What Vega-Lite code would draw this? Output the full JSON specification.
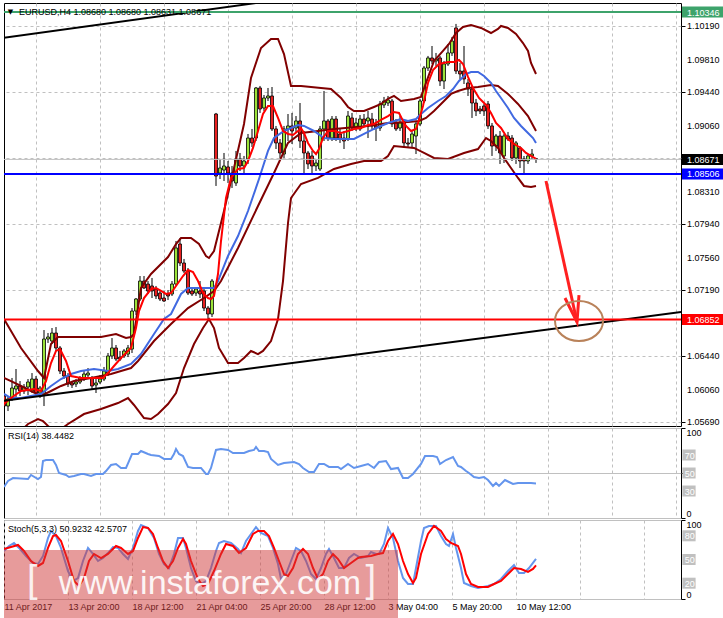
{
"$schema": "https://vega.github.io/schema/vega-lite/v6.json",
"background": "white",
"padding": {"left": 3, "top": 2, "right": 0, "bottom": 0},
"spacing": 2,
"bounds": "flush",
"config": {
  "view": {"stroke": "#000000", "strokeWidth": 1},
  "scale": {"continuousPadding": 0},
  "axis": {"labelFont": "Liberation Sans", "labelFontSize": 9, "labelColor": "#000000", "tickColor": "#000000", "labelOverlap": false},
  "text": {"font": "Liberation Sans"}
},
"datasets": {
"candles": [
{"i":0,"o":1.05981,"h":1.0606,"l":1.05776,"c":1.05867},
{"i":1,"o":1.05867,"h":1.05981,"l":1.0581,"c":1.05947},
{"i":2,"o":1.05958,"h":1.06186,"l":1.05924,"c":1.06072},
{"i":3,"o":1.0606,"h":1.06288,"l":1.05958,"c":1.06095},
{"i":4,"o":1.06095,"h":1.06151,"l":1.05981,"c":1.06038},
{"i":5,"o":1.06038,"h":1.06117,"l":1.06004,"c":1.06083},
{"i":6,"o":1.06083,"h":1.06174,"l":1.05992,"c":1.0614},
{"i":7,"o":1.06038,"h":1.06242,"l":1.06015,"c":1.06174},
{"i":8,"o":1.06174,"h":1.06208,"l":1.05981,"c":1.06015},
{"i":9,"o":1.06015,"h":1.06095,"l":1.05958,"c":1.06072},
{"i":10,"o":1.06004,"h":1.06731,"l":1.05867,"c":1.06629},
{"i":11,"o":1.06629,"h":1.06697,"l":1.06584,"c":1.06652},
{"i":12,"o":1.06606,"h":1.06754,"l":1.06572,"c":1.06697},
{"i":13,"o":1.06697,"h":1.06765,"l":1.06493,"c":1.06527},
{"i":14,"o":1.06527,"h":1.06549,"l":1.06231,"c":1.06265},
{"i":15,"o":1.06265,"h":1.06299,"l":1.06174,"c":1.06208},
{"i":16,"o":1.06208,"h":1.06242,"l":1.06083,"c":1.06117},
{"i":17,"o":1.06129,"h":1.06151,"l":1.06072,"c":1.06106},
{"i":18,"o":1.06117,"h":1.06174,"l":1.06083,"c":1.0614},
{"i":19,"o":1.0614,"h":1.06208,"l":1.06117,"c":1.06186},
{"i":20,"o":1.06174,"h":1.06265,"l":1.06151,"c":1.06231},
{"i":21,"o":1.0622,"h":1.06299,"l":1.06174,"c":1.06242},
{"i":22,"o":1.06186,"h":1.06208,"l":1.0606,"c":1.06095},
{"i":23,"o":1.06106,"h":1.06186,"l":1.06015,"c":1.06129},
{"i":24,"o":1.0614,"h":1.0622,"l":1.06117,"c":1.06174},
{"i":25,"o":1.06174,"h":1.06311,"l":1.06151,"c":1.06265},
{"i":26,"o":1.06242,"h":1.0647,"l":1.06208,"c":1.06436},
{"i":27,"o":1.06436,"h":1.0664,"l":1.06402,"c":1.06527},
{"i":28,"o":1.06527,"h":1.06561,"l":1.06379,"c":1.06402},
{"i":29,"o":1.06424,"h":1.06493,"l":1.06379,"c":1.06402},
{"i":30,"o":1.06436,"h":1.06515,"l":1.06413,"c":1.06493},
{"i":31,"o":1.06458,"h":1.06561,"l":1.06424,"c":1.06527},
{"i":32,"o":1.06515,"h":1.06981,"l":1.0647,"c":1.06947},
{"i":33,"o":1.06947,"h":1.07095,"l":1.06902,"c":1.07084},
{"i":34,"o":1.07084,"h":1.07345,"l":1.07061,"c":1.07288},
{"i":35,"o":1.07288,"h":1.07345,"l":1.07197,"c":1.07209},
{"i":36,"o":1.07254,"h":1.07288,"l":1.07141,"c":1.07175},
{"i":37,"o":1.07232,"h":1.07323,"l":1.07095,"c":1.07175},
{"i":38,"o":1.07197,"h":1.07232,"l":1.07084,"c":1.07118},
{"i":39,"o":1.07152,"h":1.07186,"l":1.07061,"c":1.07084},
{"i":40,"o":1.07095,"h":1.07175,"l":1.0705,"c":1.07061},
{"i":41,"o":1.07141,"h":1.07186,"l":1.07072,"c":1.07118},
{"i":42,"o":1.07141,"h":1.07288,"l":1.07118,"c":1.07254},
{"i":43,"o":1.07254,"h":1.07743,"l":1.07232,"c":1.07664},
{"i":44,"o":1.07709,"h":1.07777,"l":1.07459,"c":1.07493},
{"i":45,"o":1.07493,"h":1.07539,"l":1.07379,"c":1.07402},
{"i":46,"o":1.07402,"h":1.07436,"l":1.07129,"c":1.07152},
{"i":47,"o":1.07175,"h":1.07209,"l":1.07118,"c":1.07141},
{"i":48,"o":1.07152,"h":1.07209,"l":1.07118,"c":1.07197},
{"i":49,"o":1.07175,"h":1.07288,"l":1.07095,"c":1.07141},
{"i":50,"o":1.07175,"h":1.07197,"l":1.06947,"c":1.06981},
{"i":51,"o":1.06981,"h":1.07004,"l":1.06856,"c":1.06913},
{"i":52,"o":1.06913,"h":1.07311,"l":1.06879,"c":1.07288},
{"i":53,"o":1.09187,"h":1.09199,"l":1.08369,"c":1.08482},
{"i":54,"o":1.08516,"h":1.08676,"l":1.08448,"c":1.08573},
{"i":55,"o":1.0855,"h":1.08744,"l":1.08425,"c":1.08596},
{"i":56,"o":1.08585,"h":1.08653,"l":1.08403,"c":1.08516},
{"i":57,"o":1.08516,"h":1.08596,"l":1.08346,"c":1.08425},
{"i":58,"o":1.08403,"h":1.08767,"l":1.08369,"c":1.08676},
{"i":59,"o":1.08676,"h":1.08744,"l":1.08539,"c":1.08596},
{"i":60,"o":1.08596,"h":1.0871,"l":1.08516,"c":1.08653},
{"i":61,"o":1.08676,"h":1.0896,"l":1.08619,"c":1.08914},
{"i":62,"o":1.08914,"h":1.09017,"l":1.08812,"c":1.08858},
{"i":63,"o":1.08914,"h":1.09494,"l":1.0888,"c":1.09483},
{"i":64,"o":1.09483,"h":1.09506,"l":1.09199,"c":1.09244},
{"i":65,"o":1.09255,"h":1.09403,"l":1.09221,"c":1.09369},
{"i":66,"o":1.09369,"h":1.09483,"l":1.09335,"c":1.09392},
{"i":67,"o":1.09392,"h":1.09494,"l":1.08994,"c":1.09017},
{"i":68,"o":1.09017,"h":1.09051,"l":1.08789,"c":1.08858},
{"i":69,"o":1.08858,"h":1.08903,"l":1.08687,"c":1.08744},
{"i":70,"o":1.08732,"h":1.09051,"l":1.08687,"c":1.09017},
{"i":71,"o":1.09017,"h":1.09187,"l":1.0888,"c":1.09051},
{"i":72,"o":1.09051,"h":1.09199,"l":1.08846,"c":1.08994},
{"i":73,"o":1.09028,"h":1.09164,"l":1.08971,"c":1.09108},
{"i":74,"o":1.09108,"h":1.09312,"l":1.08801,"c":1.0888},
{"i":75,"o":1.0888,"h":1.08994,"l":1.08516,"c":1.08744},
{"i":76,"o":1.08744,"h":1.08767,"l":1.08562,"c":1.08619},
{"i":77,"o":1.0871,"h":1.08767,"l":1.08516,"c":1.08596},
{"i":78,"o":1.08596,"h":1.08676,"l":1.08539,"c":1.0863},
{"i":79,"o":1.08562,"h":1.09051,"l":1.08539,"c":1.09017},
{"i":80,"o":1.09017,"h":1.09449,"l":1.0888,"c":1.09108},
{"i":81,"o":1.09108,"h":1.0913,"l":1.0888,"c":1.08914},
{"i":82,"o":1.08914,"h":1.09164,"l":1.0888,"c":1.0913},
{"i":83,"o":1.0913,"h":1.09164,"l":1.0888,"c":1.08914},
{"i":84,"o":1.0896,"h":1.09017,"l":1.08858,"c":1.08903},
{"i":85,"o":1.08914,"h":1.08994,"l":1.08789,"c":1.0888},
{"i":86,"o":1.08903,"h":1.09221,"l":1.0888,"c":1.09164},
{"i":87,"o":1.09142,"h":1.09199,"l":1.08994,"c":1.09028},
{"i":88,"o":1.09028,"h":1.09142,"l":1.08994,"c":1.09085},
{"i":89,"o":1.09017,"h":1.09176,"l":1.08994,"c":1.0913},
{"i":90,"o":1.0913,"h":1.09187,"l":1.09051,"c":1.09074},
{"i":91,"o":1.09108,"h":1.09221,"l":1.08914,"c":1.09142},
{"i":92,"o":1.0913,"h":1.09199,"l":1.09017,"c":1.09051},
{"i":93,"o":1.09051,"h":1.0913,"l":1.0888,"c":1.09028},
{"i":94,"o":1.09028,"h":1.09335,"l":1.08994,"c":1.09301},
{"i":95,"o":1.0929,"h":1.09381,"l":1.09255,"c":1.09335},
{"i":96,"o":1.09312,"h":1.09392,"l":1.09278,"c":1.09346},
{"i":97,"o":1.09335,"h":1.09358,"l":1.09039,"c":1.09074},
{"i":98,"o":1.09085,"h":1.0913,"l":1.08994,"c":1.09017},
{"i":99,"o":1.09028,"h":1.09164,"l":1.08994,"c":1.09085},
{"i":100,"o":1.09085,"h":1.0913,"l":1.08801,"c":1.08858},
{"i":101,"o":1.08858,"h":1.08914,"l":1.08801,"c":1.08846},
{"i":102,"o":1.08858,"h":1.08994,"l":1.08801,"c":1.0896},
{"i":103,"o":1.08937,"h":1.09108,"l":1.08732,"c":1.09074},
{"i":104,"o":1.09074,"h":1.09358,"l":1.09051,"c":1.09335},
{"i":105,"o":1.09335,"h":1.09733,"l":1.09312,"c":1.0971},
{"i":106,"o":1.0971,"h":1.09847,"l":1.09676,"c":1.09824},
{"i":107,"o":1.09824,"h":1.0996,"l":1.09756,"c":1.0979},
{"i":108,"o":1.0979,"h":1.09881,"l":1.09733,"c":1.09813},
{"i":109,"o":1.09824,"h":1.09847,"l":1.09506,"c":1.09562},
{"i":110,"o":1.09562,"h":1.0979,"l":1.09471,"c":1.09756},
{"i":111,"o":1.09756,"h":1.09983,"l":1.09733,"c":1.09881},
{"i":112,"o":1.09881,"h":1.10063,"l":1.09847,"c":1.10017},
{"i":113,"o":1.10165,"h":1.10211,"l":1.09642,"c":1.09676},
{"i":114,"o":1.09676,"h":1.09767,"l":1.09585,"c":1.09642},
{"i":115,"o":1.09676,"h":1.0996,"l":1.09528,"c":1.09585},
{"i":116,"o":1.0954,"h":1.09585,"l":1.09392,"c":1.09471},
{"i":117,"o":1.09471,"h":1.09506,"l":1.09142,"c":1.09312},
{"i":118,"o":1.09312,"h":1.09358,"l":1.09164,"c":1.09221},
{"i":119,"o":1.09244,"h":1.09278,"l":1.09187,"c":1.09221},
{"i":120,"o":1.09278,"h":1.09301,"l":1.09164,"c":1.09221},
{"i":121,"o":1.09301,"h":1.09335,"l":1.09017,"c":1.09051},
{"i":122,"o":1.09051,"h":1.09085,"l":1.0871,"c":1.08823},
{"i":123,"o":1.08823,"h":1.0896,"l":1.08767,"c":1.08937},
{"i":124,"o":1.08937,"h":1.08994,"l":1.08619,"c":1.08744},
{"i":125,"o":1.0871,"h":1.0896,"l":1.0863,"c":1.08937},
{"i":126,"o":1.08937,"h":1.08983,"l":1.0888,"c":1.08903},
{"i":127,"o":1.08914,"h":1.08948,"l":1.08653,"c":1.08687},
{"i":128,"o":1.08687,"h":1.0888,"l":1.08619,"c":1.08858},
{"i":129,"o":1.08801,"h":1.08823,"l":1.08573,"c":1.08653},
{"i":130,"o":1.08676,"h":1.0871,"l":1.08516,"c":1.08653},
{"i":131,"o":1.08653,"h":1.08732,"l":1.08619,"c":1.0871},
{"i":132,"o":1.0871,"h":1.08789,"l":1.08676,"c":1.08732},
{"i":133,"o":1.0868,"h":1.0868,"l":1.08631,"c":1.08671}
],
"lines": [
{"s":"f","i":0,"p":1.0589},{"s":"f","i":1.75,"p":1.05958},{"s":"f","i":4.25,"p":1.06038},{"s":"f","i":7.5,"p":1.0606},{"s":"f","i":9.25,"p":1.06038},{"s":"f","i":10.5,"p":1.06151},{"s":"f","i":11.75,"p":1.06356},{"s":"f","i":13,"p":1.06493},{"s":"f","i":14,"p":1.06515},{"s":"f","i":15.5,"p":1.06379},{"s":"f","i":16.75,"p":1.06208},{"s":"f","i":19.25,"p":1.06186},{"s":"f","i":22.5,"p":1.06186},{"s":"f","i":24.75,"p":1.06186},{"s":"f","i":26,"p":1.06242},{"s":"f","i":27.5,"p":1.06322},{"s":"f","i":29.25,"p":1.06413},{"s":"f","i":31.75,"p":1.06527},{"s":"f","i":33,"p":1.06754},{"s":"f","i":33.75,"p":1.06947},{"s":"f","i":35,"p":1.07095},{"s":"f","i":36.75,"p":1.07197},{"s":"f","i":38,"p":1.07209},{"s":"f","i":39.25,"p":1.07175},{"s":"f","i":40.5,"p":1.07141},{"s":"f","i":41.75,"p":1.07152},{"s":"f","i":43,"p":1.07232},{"s":"f","i":44.75,"p":1.07345},{"s":"f","i":46,"p":1.07413},{"s":"f","i":47.25,"p":1.07391},{"s":"f","i":48.5,"p":1.07288},{"s":"f","i":49.75,"p":1.07152},{"s":"f","i":51,"p":1.07095},{"s":"f","i":51.75,"p":1.07084},{"s":"f","i":52.5,"p":1.07118},{"s":"f","i":53.5,"p":1.07368},{"s":"f","i":54.25,"p":1.07743},{"s":"f","i":55.5,"p":1.08232},{"s":"f","i":56.75,"p":1.0846},{"s":"f","i":58.5,"p":1.08562},{"s":"f","i":60,"p":1.08573},{"s":"f","i":61,"p":1.08653},{"s":"f","i":62.25,"p":1.08801},{"s":"f","i":63.5,"p":1.08994},{"s":"f","i":64.75,"p":1.09187},{"s":"f","i":66,"p":1.09278},{"s":"f","i":67.25,"p":1.09278},{"s":"f","i":68.5,"p":1.09142},{"s":"f","i":69.75,"p":1.08994},{"s":"f","i":71,"p":1.0896},{"s":"f","i":72.25,"p":1.08948},{"s":"f","i":73.5,"p":1.08994},{"s":"f","i":74.25,"p":1.09028},{"s":"f","i":75,"p":1.08971},{"s":"f","i":76,"p":1.08858},{"s":"f","i":77.25,"p":1.08767},{"s":"f","i":78,"p":1.08732},{"s":"f","i":78.75,"p":1.08789},{"s":"f","i":79.75,"p":1.08914},{"s":"f","i":81,"p":1.08994},{"s":"f","i":82.5,"p":1.08994},{"s":"f","i":84.25,"p":1.08971},{"s":"f","i":86,"p":1.08994},{"s":"f","i":87.5,"p":1.09017},{"s":"f","i":89.25,"p":1.09028},{"s":"f","i":91,"p":1.09062},{"s":"f","i":92.5,"p":1.09074},{"s":"f","i":94.25,"p":1.09119},{"s":"f","i":96,"p":1.09164},{"s":"f","i":97.5,"p":1.0921},{"s":"f","i":98.75,"p":1.09199},{"s":"f","i":99.75,"p":1.09108},{"s":"f","i":100.5,"p":1.09051},{"s":"f","i":101.75,"p":1.08994},{"s":"f","i":103,"p":1.09017},{"s":"f","i":103.75,"p":1.09119},{"s":"f","i":104.75,"p":1.09278},{"s":"f","i":106,"p":1.0954},{"s":"f","i":107.25,"p":1.09687},{"s":"f","i":108.75,"p":1.09756},{"s":"f","i":111,"p":1.09778},{"s":"f","i":112.5,"p":1.09778},{"s":"f","i":113.75,"p":1.09801},{"s":"f","i":114.75,"p":1.09756},{"s":"f","i":116,"p":1.09608},{"s":"f","i":117.25,"p":1.09483},{"s":"f","i":118.75,"p":1.09369},{"s":"f","i":120.5,"p":1.0929},{"s":"f","i":121.75,"p":1.09199},{"s":"f","i":123,"p":1.09085},{"s":"f","i":124.25,"p":1.09028},{"s":"f","i":126,"p":1.08903},{"s":"f","i":127.5,"p":1.08846},{"s":"f","i":129.25,"p":1.08801},{"s":"f","i":130.5,"p":1.08744},{"s":"f","i":131.75,"p":1.0871},{"s":"f","i":133,"p":1.08676},
{"s":"s","i":0,"p":1.06004},{"s":"s","i":1.75,"p":1.05958},{"s":"s","i":4.25,"p":1.05958},{"s":"s","i":6.75,"p":1.05981},{"s":"s","i":9.25,"p":1.06004},{"s":"s","i":11.75,"p":1.06095},{"s":"s","i":14.25,"p":1.06174},{"s":"s","i":16.75,"p":1.06231},{"s":"s","i":19.25,"p":1.06265},{"s":"s","i":22.5,"p":1.06288},{"s":"s","i":26,"p":1.06265},{"s":"s","i":28.5,"p":1.06288},{"s":"s","i":31.75,"p":1.06345},{"s":"s","i":34.25,"p":1.06458},{"s":"s","i":37.5,"p":1.06686},{"s":"s","i":40,"p":1.06856},{"s":"s","i":41.75,"p":1.06913},{"s":"s","i":43,"p":1.07027},{"s":"s","i":44.25,"p":1.07141},{"s":"s","i":46,"p":1.07209},{"s":"s","i":48.5,"p":1.07209},{"s":"s","i":51.25,"p":1.07209},{"s":"s","i":52.5,"p":1.07209},{"s":"s","i":53.5,"p":1.07288},{"s":"s","i":56,"p":1.07573},{"s":"s","i":58.5,"p":1.078},{"s":"s","i":61,"p":1.08084},{"s":"s","i":63.75,"p":1.08448},{"s":"s","i":66,"p":1.08767},{"s":"s","i":67.5,"p":1.08914},{"s":"s","i":70,"p":1.08994},{"s":"s","i":73.5,"p":1.09062},{"s":"s","i":75,"p":1.09051},{"s":"s","i":77.5,"p":1.08994},{"s":"s","i":80,"p":1.08914},{"s":"s","i":82.5,"p":1.08903},{"s":"s","i":87.5,"p":1.08903},{"s":"s","i":90,"p":1.0896},{"s":"s","i":92.5,"p":1.09017},{"s":"s","i":96,"p":1.09085},{"s":"s","i":99.25,"p":1.0913},{"s":"s","i":101,"p":1.09108},{"s":"s","i":103,"p":1.0913},{"s":"s","i":104.25,"p":1.09187},{"s":"s","i":106,"p":1.09255},{"s":"s","i":108.5,"p":1.09335},{"s":"s","i":110.5,"p":1.09392},{"s":"s","i":112.25,"p":1.09471},{"s":"s","i":113.75,"p":1.09562},{"s":"s","i":115.5,"p":1.09642},{"s":"s","i":116.75,"p":1.09665},{"s":"s","i":118.5,"p":1.09665},{"s":"s","i":120,"p":1.09619},{"s":"s","i":121.75,"p":1.0954},{"s":"s","i":123,"p":1.09449},{"s":"s","i":124.25,"p":1.09369},{"s":"s","i":126,"p":1.09255},{"s":"s","i":127.5,"p":1.09142},{"s":"s","i":129.25,"p":1.09051},{"s":"s","i":131,"p":1.08971},{"s":"s","i":132.25,"p":1.08914},{"s":"s","i":133,"p":1.08858},
{"s":"u","i":0,"p":1.06856},{"s":"u","i":4.25,"p":1.06527},{"s":"u","i":8.5,"p":1.06265},{"s":"u","i":10,"p":1.06186},{"s":"u","i":11.75,"p":1.06572},{"s":"u","i":13.5,"p":1.06652},{"s":"u","i":24.25,"p":1.06652},{"s":"u","i":28,"p":1.06686},{"s":"u","i":30.5,"p":1.0664},{"s":"u","i":31.75,"p":1.06652},{"s":"u","i":32.5,"p":1.06686},{"s":"u","i":34.25,"p":1.07209},{"s":"u","i":36.75,"p":1.07368},{"s":"u","i":41,"p":1.07561},{"s":"u","i":43,"p":1.07709},{"s":"u","i":44.25,"p":1.07777},{"s":"u","i":46.75,"p":1.07777},{"s":"u","i":48.75,"p":1.07709},{"s":"u","i":50.5,"p":1.07573},{"s":"u","i":51.25,"p":1.0755},{"s":"u","i":52.5,"p":1.0763},{"s":"u","i":55,"p":1.08084},{"s":"u","i":57.5,"p":1.08573},{"s":"u","i":60,"p":1.09074},{"s":"u","i":61.75,"p":1.09597},{"s":"u","i":64.25,"p":1.09938},{"s":"u","i":66.75,"p":1.1004},{"s":"u","i":68.5,"p":1.1004},{"s":"u","i":70,"p":1.09869},{"s":"u","i":71.75,"p":1.09506},{"s":"u","i":74.25,"p":1.09506},{"s":"u","i":76.75,"p":1.09494},{"s":"u","i":79.25,"p":1.09483},{"s":"u","i":81.75,"p":1.09471},{"s":"u","i":84.25,"p":1.09369},{"s":"u","i":86,"p":1.09267},{"s":"u","i":87.5,"p":1.09221},{"s":"u","i":90,"p":1.09221},{"s":"u","i":92.5,"p":1.09267},{"s":"u","i":94.25,"p":1.09301},{"s":"u","i":96,"p":1.09358},{"s":"u","i":97.5,"p":1.09392},{"s":"u","i":99.25,"p":1.09335},{"s":"u","i":102.5,"p":1.09358},{"s":"u","i":104.25,"p":1.09381},{"s":"u","i":105.5,"p":1.0954},{"s":"u","i":107.5,"p":1.0979},{"s":"u","i":109.75,"p":1.09904},{"s":"u","i":111.25,"p":1.09983},{"s":"u","i":113,"p":1.10108},{"s":"u","i":114.75,"p":1.10176},{"s":"u","i":116.75,"p":1.10199},{"s":"u","i":119.25,"p":1.10165},{"s":"u","i":121.75,"p":1.10108},{"s":"u","i":123.5,"p":1.10154},{"s":"u","i":124.25,"p":1.10188},{"s":"u","i":126,"p":1.10165},{"s":"u","i":128,"p":1.10097},{"s":"u","i":129.75,"p":1.09994},{"s":"u","i":131,"p":1.09904},{"s":"u","i":131.75,"p":1.09767},{"s":"u","i":133,"p":1.09642},
{"s":"m","i":0,"p":1.06186},{"s":"m","i":1.75,"p":1.06151},{"s":"m","i":4.25,"p":1.06095},{"s":"m","i":6.75,"p":1.06038},{"s":"m","i":9.25,"p":1.05981},{"s":"m","i":11.75,"p":1.06038},{"s":"m","i":14.25,"p":1.06095},{"s":"m","i":17.5,"p":1.06151},{"s":"m","i":21.75,"p":1.06186},{"s":"m","i":26.75,"p":1.06231},{"s":"m","i":29.25,"p":1.06265},{"s":"m","i":31.75,"p":1.06299},{"s":"m","i":33.5,"p":1.06379},{"s":"m","i":37.5,"p":1.06606},{"s":"m","i":41.75,"p":1.068},{"s":"m","i":46,"p":1.06981},{"s":"m","i":50,"p":1.07095},{"s":"m","i":52.5,"p":1.07175},{"s":"m","i":54.25,"p":1.07288},{"s":"m","i":58.5,"p":1.07664},{"s":"m","i":63.5,"p":1.08141},{"s":"m","i":67.5,"p":1.08516},{"s":"m","i":71,"p":1.08858},{"s":"m","i":74.25,"p":1.08971},{"s":"m","i":78.5,"p":1.08994},{"s":"m","i":82.5,"p":1.09017},{"s":"m","i":91,"p":1.09051},{"s":"m","i":96,"p":1.09085},{"s":"m","i":101,"p":1.09096},{"s":"m","i":103.75,"p":1.09108},{"s":"m","i":105.5,"p":1.09142},{"s":"m","i":107.5,"p":1.09221},{"s":"m","i":110,"p":1.09335},{"s":"m","i":111.75,"p":1.09415},{"s":"m","i":113.5,"p":1.09449},{"s":"m","i":116,"p":1.09483},{"s":"m","i":118.5,"p":1.09494},{"s":"m","i":121.75,"p":1.09517},{"s":"m","i":123.5,"p":1.09506},{"s":"m","i":126,"p":1.09415},{"s":"m","i":128.5,"p":1.09301},{"s":"m","i":131,"p":1.09164},{"s":"m","i":133,"p":1.08994},
{"s":"b","i":0,"p":1.05412},{"s":"b","i":3,"p":1.05526},{"s":"b","i":6,"p":1.05663},{"s":"b","i":8.5,"p":1.05719},{"s":"b","i":9.75,"p":1.05697},{"s":"b","i":11,"p":1.0564},{"s":"b","i":13,"p":1.0556},{"s":"b","i":16,"p":1.05663},{"s":"b","i":20,"p":1.05776},{"s":"b","i":24.25,"p":1.05833},{"s":"b","i":28.5,"p":1.05901},{"s":"b","i":31,"p":1.05958},{"s":"b","i":32.5,"p":1.05879},{"s":"b","i":35,"p":1.05731},{"s":"b","i":36.75,"p":1.05719},{"s":"b","i":38.5,"p":1.05776},{"s":"b","i":41,"p":1.0589},{"s":"b","i":43,"p":1.06015},{"s":"b","i":45,"p":1.06299},{"s":"b","i":47.5,"p":1.06572},{"s":"b","i":49.75,"p":1.06754},{"s":"b","i":51.25,"p":1.06856},{"s":"b","i":52.5,"p":1.06754},{"s":"b","i":53.75,"p":1.06527},{"s":"b","i":56,"p":1.06356},{"s":"b","i":58.5,"p":1.06356},{"s":"b","i":60,"p":1.06413},{"s":"b","i":61.75,"p":1.06493},{"s":"b","i":63.5,"p":1.06458},{"s":"b","i":64.75,"p":1.06493},{"s":"b","i":66.75,"p":1.06606},{"s":"b","i":68.5,"p":1.06856},{"s":"b","i":69.75,"p":1.07288},{"s":"b","i":71,"p":1.07948},{"s":"b","i":71.75,"p":1.08232},{"s":"b","i":74.25,"p":1.08391},{"s":"b","i":78.5,"p":1.0846},{"s":"b","i":82.5,"p":1.08562},{"s":"b","i":86.75,"p":1.08619},{"s":"b","i":90,"p":1.08653},{"s":"b","i":94.25,"p":1.08653},{"s":"b","i":96,"p":1.0871},{"s":"b","i":97.5,"p":1.08823},{"s":"b","i":102.5,"p":1.08801},{"s":"b","i":105,"p":1.08744},{"s":"b","i":107.5,"p":1.08687},{"s":"b","i":111,"p":1.08676},{"s":"b","i":115,"p":1.08744},{"s":"b","i":118.5,"p":1.08789},{"s":"b","i":120.5,"p":1.08914},{"s":"b","i":121.75,"p":1.0888},{"s":"b","i":123.5,"p":1.08801},{"s":"b","i":125,"p":1.08687},{"s":"b","i":126.75,"p":1.08573},{"s":"b","i":128.5,"p":1.0846},{"s":"b","i":130,"p":1.08369},{"s":"b","i":131.75,"p":1.08357},{"s":"b","i":133,"p":1.08369}
],
"trend": [
{"t":"lower","i":-1,"p":1.05922},{"t":"lower","i":170,"p":1.0694},
{"t":"upper","i":-1,"p":1.10049},{"t":"upper","i":70,"p":1.10492}
],
"levels": [
{"k":"high","p":1.10346},{"k":"bid","p":1.08671},{"k":"support","p":1.08506},{"k":"target","p":1.06852}
],
"priceLabels": [
{"p":1.1019},{"p":1.0981},{"p":1.0944},{"p":1.0906},{"p":1.0831},{"p":1.0794},{"p":1.0756},{"p":1.0719},{"p":1.0644},{"p":1.0606},{"p":1.0569}
],
"arrow": [
{"seg":"shaft","i":135.5,"p":1.08425},{"seg":"shaft","i":143.25,"p":1.06822},
{"seg":"head","i":140.25,"p":1.07095},{"seg":"head","i":143.25,"p":1.06822},{"seg":"head","i":143.75,"p":1.07129}
],
"rsi": [
{"i":0,"v":34.4},{"i":1,"v":41.1},{"i":2.25,"v":44.4},{"i":6,"v":43.3},{"i":6.75,"v":47.8},{"i":8.5,"v":43.3},{"i":9.25,"v":45.6},{"i":9.75,"v":63.3},{"i":10.5,"v":64.4},{"i":12.25,"v":64.4},{"i":13,"v":58.9},{"i":13.75,"v":50},{"i":15.5,"v":47.8},{"i":16.25,"v":45.6},{"i":17.5,"v":46.7},{"i":19.25,"v":48.9},{"i":20,"v":48.9},{"i":21.75,"v":46.7},{"i":23,"v":48.9},{"i":24.75,"v":48.9},{"i":25.5,"v":52.2},{"i":26.75,"v":58.9},{"i":28,"v":60},{"i":29.25,"v":55.6},{"i":30.5,"v":55.6},{"i":31.25,"v":63.3},{"i":32,"v":71.1},{"i":33.5,"v":71.1},{"i":34.25,"v":74.4},{"i":36,"v":71.1},{"i":36.75,"v":70},{"i":38.75,"v":68.9},{"i":40,"v":65.6},{"i":41.75,"v":65.6},{"i":42.5,"v":71.1},{"i":43,"v":76.7},{"i":43.75,"v":71.1},{"i":44.75,"v":68.9},{"i":46,"v":56.7},{"i":47.25,"v":55.6},{"i":49.25,"v":55.6},{"i":50.5,"v":48.9},{"i":51,"v":48.9},{"i":51.75,"v":55.6},{"i":53,"v":75.6},{"i":54.25,"v":76.7},{"i":56,"v":75.6},{"i":57.25,"v":72.2},{"i":58.5,"v":72.2},{"i":60,"v":72.2},{"i":61.25,"v":74.4},{"i":62.5,"v":75.6},{"i":63,"v":78.9},{"i":63.75,"v":74.4},{"i":65,"v":74.4},{"i":66,"v":73.3},{"i":66.75,"v":65.6},{"i":68.5,"v":58.9},{"i":70,"v":61.1},{"i":72.5,"v":62.2},{"i":73.75,"v":60},{"i":74.75,"v":55.6},{"i":76.25,"v":51.1},{"i":77.5,"v":51.1},{"i":78.75,"v":60},{"i":80,"v":60},{"i":81.25,"v":56.7},{"i":83.5,"v":56.7},{"i":84.25,"v":54.4},{"i":86,"v":60},{"i":87.5,"v":55.6},{"i":89.25,"v":57.8},{"i":91,"v":60},{"i":92.5,"v":55.6},{"i":93.75,"v":62.2},{"i":95.5,"v":63.3},{"i":96.75,"v":54.4},{"i":98.5,"v":55.6},{"i":99.75,"v":44.4},{"i":101,"v":44.4},{"i":102.25,"v":48.9},{"i":104.25,"v":60},{"i":105.25,"v":68.9},{"i":107.25,"v":68.9},{"i":108.25,"v":67.8},{"i":109,"v":60},{"i":110.5,"v":64.4},{"i":112.25,"v":67.8},{"i":113.5,"v":57.8},{"i":114.25,"v":56.7},{"i":115.5,"v":52.2},{"i":116.25,"v":50},{"i":117.5,"v":45.6},{"i":118.75,"v":44.4},{"i":120,"v":45.6},{"i":121,"v":42.2},{"i":122.25,"v":35.6},{"i":123,"v":38.9},{"i":123.75,"v":35.6},{"i":125.25,"v":42.2},{"i":126.25,"v":40},{"i":127.25,"v":37.8},{"i":128.5,"v":38.9},{"i":130,"v":38.9},{"i":131.75,"v":38.9},{"i":133,"v":38.45}
],
"stoch": [
{"s":"k","i":0,"v":60.8},{"s":"k","i":1.25,"v":67.1},{"s":"k","i":2.5,"v":70.9},{"s":"k","i":3.75,"v":64.6},{"s":"k","i":5.5,"v":54.4},{"s":"k","i":7.25,"v":45.6},{"s":"k","i":8.5,"v":44.3},{"s":"k","i":9.75,"v":54.4},{"s":"k","i":11,"v":77.2},{"s":"k","i":11.75,"v":86.1},{"s":"k","i":13,"v":79.7},{"s":"k","i":14.25,"v":64.6},{"s":"k","i":16,"v":35.4},{"s":"k","i":17.25,"v":22.8},{"s":"k","i":18.5,"v":26.6},{"s":"k","i":19.75,"v":48.1},{"s":"k","i":21,"v":64.6},{"s":"k","i":22.25,"v":57},{"s":"k","i":23.5,"v":48.1},{"s":"k","i":24.75,"v":51.9},{"s":"k","i":26,"v":58.2},{"s":"k","i":27.25,"v":65.8},{"s":"k","i":28.5,"v":64.6},{"s":"k","i":29.75,"v":57},{"s":"k","i":31,"v":50.6},{"s":"k","i":32.25,"v":64.6},{"s":"k","i":33.5,"v":86.1},{"s":"k","i":34.25,"v":93.7},{"s":"k","i":36,"v":89.9},{"s":"k","i":37.5,"v":77.2},{"s":"k","i":38.75,"v":57},{"s":"k","i":40,"v":44.3},{"s":"k","i":41.25,"v":39.2},{"s":"k","i":42.5,"v":57},{"s":"k","i":43.5,"v":77.2},{"s":"k","i":44.75,"v":77.2},{"s":"k","i":45.5,"v":64.6},{"s":"k","i":46.75,"v":39.2},{"s":"k","i":48,"v":22.8},{"s":"k","i":49.25,"v":19},{"s":"k","i":50.5,"v":22.8},{"s":"k","i":51.75,"v":39.2},{"s":"k","i":53,"v":60.8},{"s":"k","i":53.75,"v":70.9},{"s":"k","i":55,"v":73.4},{"s":"k","i":56.75,"v":70.9},{"s":"k","i":58.5,"v":63.3},{"s":"k","i":59.25,"v":58.2},{"s":"k","i":60.5,"v":73.4},{"s":"k","i":61.75,"v":82.3},{"s":"k","i":63,"v":91.1},{"s":"k","i":64.25,"v":83.5},{"s":"k","i":66,"v":79.7},{"s":"k","i":67.25,"v":64.6},{"s":"k","i":68.5,"v":44.3},{"s":"k","i":69.25,"v":25.3},{"s":"k","i":70.5,"v":31.6},{"s":"k","i":71.75,"v":48.1},{"s":"k","i":73,"v":64.6},{"s":"k","i":74.25,"v":60.8},{"s":"k","i":75.5,"v":48.1},{"s":"k","i":76.75,"v":31.6},{"s":"k","i":78,"v":25.3},{"s":"k","i":79.25,"v":39.2},{"s":"k","i":80.5,"v":57},{"s":"k","i":81.25,"v":63.3},{"s":"k","i":82.5,"v":51.9},{"s":"k","i":83.75,"v":39.2},{"s":"k","i":85,"v":39.2},{"s":"k","i":86.25,"v":51.9},{"s":"k","i":87.5,"v":57},{"s":"k","i":89.25,"v":51.9},{"s":"k","i":91,"v":54.4},{"s":"k","i":91.75,"v":59.5},{"s":"k","i":93,"v":57},{"s":"k","i":93.75,"v":57},{"s":"k","i":95,"v":69.6},{"s":"k","i":96,"v":89.9},{"s":"k","i":97.25,"v":77.2},{"s":"k","i":98.5,"v":48.1},{"s":"k","i":99.75,"v":26.6},{"s":"k","i":101,"v":19},{"s":"k","i":102.25,"v":19},{"s":"k","i":103,"v":39.2},{"s":"k","i":104.25,"v":73.4},{"s":"k","i":105,"v":89.9},{"s":"k","i":106.25,"v":92.4},{"s":"k","i":108,"v":92.4},{"s":"k","i":109.25,"v":79.7},{"s":"k","i":110.5,"v":69.6},{"s":"k","i":111.25,"v":67.1},{"s":"k","i":112.25,"v":82.3},{"s":"k","i":113,"v":64.6},{"s":"k","i":114.25,"v":39.2},{"s":"k","i":115,"v":20.3},{"s":"k","i":116.75,"v":16.5},{"s":"k","i":118.5,"v":13.9},{"s":"k","i":121,"v":16.5},{"s":"k","i":122.5,"v":19},{"s":"k","i":124.25,"v":25.3},{"s":"k","i":126,"v":35.4},{"s":"k","i":127.5,"v":43},{"s":"k","i":128.75,"v":32.9},{"s":"k","i":130,"v":32.9},{"s":"k","i":131.25,"v":39.2},{"s":"k","i":133,"v":50.92},
{"s":"d","i":0,"v":63.3},{"s":"d","i":1.75,"v":65.8},{"s":"d","i":3.5,"v":68.4},{"s":"d","i":5,"v":60.8},{"s":"d","i":6.75,"v":48.1},{"s":"d","i":8.5,"v":41.8},{"s":"d","i":9.75,"v":45.6},{"s":"d","i":11,"v":64.6},{"s":"d","i":12.25,"v":79.7},{"s":"d","i":13,"v":81},{"s":"d","i":14.25,"v":73.4},{"s":"d","i":16,"v":48.1},{"s":"d","i":17.5,"v":22.8},{"s":"d","i":18.75,"v":16.5},{"s":"d","i":20,"v":26.6},{"s":"d","i":21.25,"v":48.1},{"s":"d","i":22.5,"v":57},{"s":"d","i":24.25,"v":51.9},{"s":"d","i":26,"v":57},{"s":"d","i":28,"v":67.1},{"s":"d","i":29.25,"v":64.6},{"s":"d","i":31,"v":57},{"s":"d","i":32.25,"v":60.8},{"s":"d","i":33.5,"v":77.2},{"s":"d","i":34.75,"v":91.1},{"s":"d","i":36,"v":89.9},{"s":"d","i":37.25,"v":82.3},{"s":"d","i":38.5,"v":64.6},{"s":"d","i":39.75,"v":48.1},{"s":"d","i":41,"v":39.2},{"s":"d","i":42.25,"v":48.1},{"s":"d","i":43.5,"v":64.6},{"s":"d","i":44.75,"v":75.9},{"s":"d","i":45.5,"v":69.6},{"s":"d","i":46.75,"v":48.1},{"s":"d","i":48.5,"v":25.3},{"s":"d","i":49.75,"v":16.5},{"s":"d","i":51,"v":19},{"s":"d","i":52.5,"v":35.4},{"s":"d","i":54.25,"v":57},{"s":"d","i":55.5,"v":69.6},{"s":"d","i":57.25,"v":67.1},{"s":"d","i":58.75,"v":58.2},{"s":"d","i":60.5,"v":64.6},{"s":"d","i":62.25,"v":82.3},{"s":"d","i":63.5,"v":86.1},{"s":"d","i":65,"v":86.1},{"s":"d","i":66.25,"v":79.7},{"s":"d","i":67.5,"v":64.6},{"s":"d","i":68.75,"v":48.1},{"s":"d","i":70,"v":31.6},{"s":"d","i":71,"v":29.1},{"s":"d","i":72.25,"v":39.2},{"s":"d","i":73.5,"v":57},{"s":"d","i":74.75,"v":63.3},{"s":"d","i":76,"v":57},{"s":"d","i":77.25,"v":39.2},{"s":"d","i":78.5,"v":25.3},{"s":"d","i":79.75,"v":31.6},{"s":"d","i":81,"v":48.1},{"s":"d","i":82.25,"v":57},{"s":"d","i":83.5,"v":50.6},{"s":"d","i":85,"v":39.2},{"s":"d","i":86.75,"v":45.6},{"s":"d","i":88.5,"v":51.9},{"s":"d","i":89.25,"v":53.2},{"s":"d","i":91.75,"v":54.4},{"s":"d","i":93.5,"v":57},{"s":"d","i":94.75,"v":58.2},{"s":"d","i":96,"v":73.4},{"s":"d","i":97.25,"v":82.3},{"s":"d","i":98.5,"v":69.6},{"s":"d","i":99.75,"v":48.1},{"s":"d","i":101,"v":31.6},{"s":"d","i":102.25,"v":20.3},{"s":"d","i":103,"v":26.6},{"s":"d","i":104.25,"v":57},{"s":"d","i":106,"v":82.3},{"s":"d","i":107.5,"v":92.4},{"s":"d","i":109.25,"v":86.1},{"s":"d","i":110.5,"v":75.9},{"s":"d","i":111.75,"v":70.9},{"s":"d","i":113.5,"v":67.1},{"s":"d","i":114.25,"v":57},{"s":"d","i":115.5,"v":31.6},{"s":"d","i":116.75,"v":19},{"s":"d","i":118.5,"v":15.2},{"s":"d","i":121,"v":15.2},{"s":"d","i":122.5,"v":19},{"s":"d","i":124.25,"v":22.8},{"s":"d","i":126.25,"v":32.9},{"s":"d","i":127.5,"v":39.2},{"s":"d","i":129.25,"v":38},{"s":"d","i":131,"v":34.2},{"s":"d","i":132.25,"v":38},{"s":"d","i":133,"v":42.57}
],
"rsiLevels": [{"v":70},{"v":50},{"v":30}],
"stochLevels": [{"v":80},{"v":50},{"v":20}],
"one": [{"n":1}]
},
"vconcat": [
{
"width": 677, "height": 423,
"layer": [
{"data": {"name": "candles"}, "mark": {"type": "rule", "color": "#000000", "strokeWidth": 1, "clip": true},
 "encoding": {
  "x": {"field": "i", "type": "quantitative", "title": null, "scale": {"domain": [0, 169.25], "nice": false, "zero": false, "padding": 0},
        "axis": {"values": [8,16,24,32,40,48,56,64,72,80,88,96,104,112,120,128,136,144,152,160,168], "labels": false, "ticks": false, "domain": false, "grid": true, "gridDash": [3,3], "gridColor": "#C0C0C0"}},
  "y": {"field": "l", "type": "quantitative", "title": null, "scale": {"domain": [1.0564, 1.10449], "nice": false, "zero": false, "padding": 0},
        "axis": {"orient": "right", "values": [1.1019,1.0981,1.0944,1.0906,1.0869,1.0831,1.0794,1.0756,1.0719,1.0681,1.0644,1.0606,1.0569],
                 "labels": false, "grid": true, "gridDash": [3,3], "gridColor": "#C0C0C0", "ticks": true, "tickSize": 4, "domain": false}},
  "y2": {"field": "h"}
 }},
{"data": {"name": "candles"}, "mark": {"type": "bar", "width": 3, "stroke": "#000000", "strokeWidth": 0.8, "clip": true},
 "encoding": {
  "x": {"field": "i", "type": "quantitative", "title": null},
  "y": {"field": "o", "type": "quantitative", "title": null},
  "y2": {"field": "c"},
  "color": {"condition": {"test": "datum.c >= datum.o", "value": "#9BE33A"}, "value": "#E82020"}
 }},
{"data": {"name": "lines"}, "transform": [{"filter": "datum.s == 'u' || datum.s == 'm' || datum.s == 'b'"}],
 "mark": {"type": "line", "color": "#800000", "strokeWidth": 2, "clip": true},
 "encoding": {"x": {"field": "i", "type": "quantitative", "title": null}, "y": {"field": "p", "type": "quantitative", "title": null}, "detail": {"field": "s"}}},
{"data": {"name": "lines"}, "transform": [{"filter": "datum.s == 's'"}],
 "mark": {"type": "line", "color": "#4169E1", "strokeWidth": 2, "clip": true},
 "encoding": {"x": {"field": "i", "type": "quantitative", "title": null}, "y": {"field": "p", "type": "quantitative", "title": null}}},
{"data": {"name": "lines"}, "transform": [{"filter": "datum.s == 'f'"}],
 "mark": {"type": "line", "color": "#FF0000", "strokeWidth": 2, "clip": true},
 "encoding": {"x": {"field": "i", "type": "quantitative", "title": null}, "y": {"field": "p", "type": "quantitative", "title": null}}},
{"data": {"name": "trend"}, "mark": {"type": "line", "color": "#000000", "strokeWidth": 2, "clip": true},
 "encoding": {"x": {"field": "i", "type": "quantitative", "title": null}, "y": {"field": "p", "type": "quantitative", "title": null}, "detail": {"field": "t"}}},
{"data": {"name": "levels"}, "mark": {"type": "rule", "clip": true},
 "encoding": {
  "y": {"field": "p", "type": "quantitative", "title": null},
  "color": {"condition": [{"test": "datum.k == 'high'", "value": "#3DA36B"}, {"test": "datum.k == 'bid'", "value": "#C0C0C0"}, {"test": "datum.k == 'support'", "value": "#0000FF"}], "value": "#FF0000"},
  "strokeWidth": {"condition": {"test": "datum.k == 'bid'", "value": 1}, "value": 2}
 }},
{"data": {"name": "arrow"}, "mark": {"type": "line", "color": "#FF2020", "strokeWidth": 3},
 "encoding": {"x": {"field": "i", "type": "quantitative", "title": null}, "y": {"field": "p", "type": "quantitative", "title": null}, "detail": {"field": "seg"}}},
{"data": {"name": "one"}, "mark": {"type": "point", "shape": "M-1,0A1,0.833,0,1,1,1,0A1,0.833,0,1,1,-1,0Z", "size": 2304, "filled": false, "stroke": "#B9825A", "strokeWidth": 2, "opacity": 1},
 "encoding": {"x": {"datum": 143.75, "type": "quantitative"}, "y": {"datum": 1.06834, "type": "quantitative"}}},
{"data": {"name": "one"}, "mark": {"type": "text", "text": "▼", "font": "DejaVu Sans", "fontSize": 7, "align": "center", "baseline": "middle", "color": "#000000"},
 "encoding": {"x": {"datum": 1.6, "type": "quantitative"}, "y": {"datum": 1.10346, "type": "quantitative"}}},
{"data": {"name": "one"}, "mark": {"type": "text", "text": "EURUSD,H4  1.08680 1.08680 1.08631 1.08671", "fontSize": 9, "align": "left", "baseline": "middle", "color": "#000000"},
 "encoding": {"x": {"datum": 3.75, "type": "quantitative"}, "y": {"datum": 1.10346, "type": "quantitative"}}},
{"data": {"name": "priceLabels"}, "mark": {"type": "text", "fontSize": 9, "align": "left", "baseline": "middle", "color": "#000000", "dy": 0.5},
 "encoding": {
  "x": {"datum": 170.75, "type": "quantitative"},
  "y": {"field": "p", "type": "quantitative", "title": null},
  "text": {"field": "p", "type": "quantitative", "format": ".5f"}
 }},
{"data": {"name": "levels"}, "mark": {"type": "bar", "size": 11},
 "encoding": {
  "x": {"datum": 169.5, "type": "quantitative"}, "x2": {"datum": 180.5},
  "y": {"field": "p", "type": "quantitative", "title": null},
  "color": {"condition": [{"test": "datum.k == 'high'", "value": "#3DA36B"}, {"test": "datum.k == 'bid'", "value": "#000000"}, {"test": "datum.k == 'support'", "value": "#0000FF"}], "value": "#FF0000"}
 }},
{"data": {"name": "levels"}, "mark": {"type": "text", "fontSize": 9, "align": "left", "baseline": "middle", "color": "#FFFFFF", "dy": 0.5},
 "encoding": {
  "x": {"datum": 170.75, "type": "quantitative"},
  "y": {"field": "p", "type": "quantitative", "title": null},
  "text": {"field": "p", "type": "quantitative", "format": ".5f"}
 }}
]
},
{
"width": 677, "height": 90,
"layer": [
{"data": {"name": "rsi"}, "mark": {"type": "line", "color": "#6495ED", "strokeWidth": 2, "clip": true},
 "encoding": {
  "x": {"field": "i", "type": "quantitative", "title": null, "scale": {"domain": [0, 169.25], "nice": false, "zero": false, "padding": 0},
        "axis": {"values": [8,16,24,32,40,48,56,64,72,80,88,96,104,112,120,128,136,144,152,160,168], "labels": false, "ticks": false, "domain": false, "grid": true, "gridDash": [3,3], "gridColor": "#C0C0C0"}},
  "y": {"field": "v", "type": "quantitative", "title": null, "scale": {"domain": [0, 100], "nice": false, "zero": false, "padding": 0},
        "axis": {"orient": "right", "values": [0,30,50,70,100], "labelExpr": "(datum.value == 30 || datum.value == 50 || datum.value == 70) ? '' : datum.label",
                 "labelFlush": true, "labelOverlap": false, "grid": true, "gridColor": "#C0C0C0", "tickSize": 4, "labelPadding": 1, "domain": false}}
 }},
{"data": {"name": "rsiLevels"}, "mark": {"type": "bar", "size": 11, "color": "#C0C0C0"},
 "encoding": {"x": {"datum": 169.6, "type": "quantitative"}, "x2": {"datum": 172.9}, "y": {"field": "v", "type": "quantitative", "title": null}}},
{"data": {"name": "rsiLevels"}, "mark": {"type": "text", "fontSize": 9, "align": "left", "baseline": "middle", "color": "#FFFFFF", "dy": 0.5},
 "encoding": {"x": {"datum": 170.2, "type": "quantitative"}, "y": {"field": "v", "type": "quantitative", "title": null}, "text": {"field": "v", "type": "quantitative"}}},
{"data": {"name": "one"}, "mark": {"type": "text", "text": "RSI(14) 38.4482", "fontSize": 9, "align": "left", "baseline": "middle", "color": "#000000"},
 "encoding": {"x": {"datum": 1, "type": "quantitative"}, "y": {"datum": 91, "type": "quantitative"}}}
]
},
{
"width": 677, "height": 79,
"layer": [
{"data": {"name": "stoch"}, "transform": [{"filter": "datum.s == 'k'"}], "mark": {"type": "line", "color": "#6495ED", "strokeWidth": 2, "clip": true},
 "encoding": {
  "x": {"field": "i", "type": "quantitative", "title": null, "scale": {"domain": [0, 169.25], "nice": false, "zero": false, "padding": 0},
        "axis": {"values": [0,8,16,24,32,40,48,56,64,72,80,88,96,104,112,120,128,136,144,152,160,168],
                 "labelExpr": "(datum.value % 16 == 0 && datum.value <= 128) ? ['11 Apr 2017','13 Apr 20:00','18 Apr 12:00','21 Apr 04:00','25 Apr 20:00','28 Apr 12:00','3 May 04:00','5 May 20:00','10 May 12:00'][datum.value / 16] : ''",
                 "labelAlign": "left", "labelFlush": false, "labelOverlap": false, "labelPadding": 3, "ticks": false, "domain": false, "grid": true, "gridDash": [3,3], "gridColor": "#C0C0C0"}},
  "y": {"field": "v", "type": "quantitative", "title": null, "scale": {"domain": [0, 100], "nice": false, "zero": false, "padding": 0},
        "axis": {"orient": "right", "values": [0,20,50,80,100], "labelExpr": "(datum.value == 20 || datum.value == 50 || datum.value == 80) ? '' : datum.label",
                 "labelFlush": true, "labelOverlap": false, "grid": true, "gridColor": "#C0C0C0", "tickSize": 4, "labelPadding": 1, "domain": false}}
 }},
{"data": {"name": "stoch"}, "transform": [{"filter": "datum.s == 'd'"}], "mark": {"type": "line", "color": "#FF0000", "strokeWidth": 2, "clip": true},
 "encoding": {"x": {"field": "i", "type": "quantitative", "title": null}, "y": {"field": "v", "type": "quantitative", "title": null}}},
{"data": {"name": "stochLevels"}, "mark": {"type": "bar", "size": 11, "color": "#C0C0C0"},
 "encoding": {"x": {"datum": 169.6, "type": "quantitative"}, "x2": {"datum": 172.9}, "y": {"field": "v", "type": "quantitative", "title": null}}},
{"data": {"name": "stochLevels"}, "mark": {"type": "text", "fontSize": 9, "align": "left", "baseline": "middle", "color": "#FFFFFF", "dy": 0.5},
 "encoding": {"x": {"datum": 170.2, "type": "quantitative"}, "y": {"field": "v", "type": "quantitative", "title": null}, "text": {"field": "v", "type": "quantitative"}}},
{"data": {"name": "one"}, "mark": {"type": "text", "text": "Stoch(5,3,3) 50.9232 42.5707", "fontSize": 9, "align": "left", "baseline": "middle", "color": "#000000"},
 "encoding": {"x": {"datum": 1, "type": "quantitative"}, "y": {"datum": 88.6, "type": "quantitative"}}},
{"data": {"name": "one"}, "mark": {"type": "rect", "color": "#D03838", "opacity": 0.5},
 "encoding": {"x": {"datum": 0, "type": "quantitative"}, "x2": {"datum": 98.5}, "y": {"datum": 62, "type": "quantitative"}, "y2": {"datum": -24.5}}},
{"data": {"name": "one"}, "mark": {"type": "text", "text": "www.instaforex.com", "fontSize": 34, "align": "center", "baseline": "alphabetic", "color": "#FFFFFF", "opacity": 0.9},
 "encoding": {"x": {"datum": 51.5, "type": "quantitative"}, "y": {"datum": 6.3, "type": "quantitative"}}},
{"data": {"name": "one"}, "mark": {"type": "text", "text": "[", "fontSize": 38, "align": "left", "baseline": "alphabetic", "color": "#FFFFFF", "opacity": 0.85},
 "encoding": {"x": {"datum": 5.75, "type": "quantitative"}, "y": {"datum": 8.9, "type": "quantitative"}}},
{"data": {"name": "one"}, "mark": {"type": "text", "text": "]", "fontSize": 38, "align": "right", "baseline": "alphabetic", "color": "#FFFFFF", "opacity": 0.85},
 "encoding": {"x": {"datum": 93, "type": "quantitative"}, "y": {"datum": 8.9, "type": "quantitative"}}}
]
}
]
}
